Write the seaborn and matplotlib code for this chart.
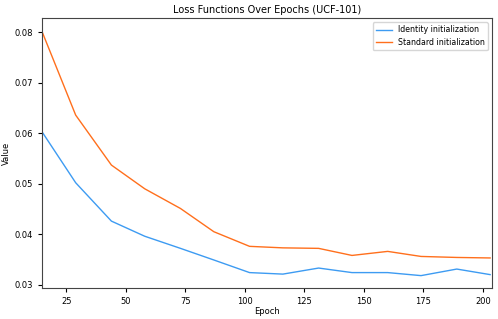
import matplotlib
matplotlib.use("Agg")
import matplotlib.pyplot as plt
import seaborn as sns
import pandas as pd

epochs = [15, 29, 44, 58, 73, 87, 102, 116, 131, 145, 160, 174, 189, 203]
identity_loss = [0.0602, 0.0502, 0.0426, 0.0396, 0.0372, 0.0349, 0.0324,
                 0.0321, 0.0333, 0.0324, 0.0324, 0.0318, 0.0331, 0.0320]
standard_loss = [0.0800, 0.0636, 0.0537, 0.0490, 0.0451, 0.0405, 0.0376,
                 0.0373, 0.0372, 0.0358, 0.0366, 0.0356, 0.0354, 0.0353]
series_names = ['Identity initialization', 'Standard initialization']
colors = ['#3d9bf2', '#ff6f1c']

df = pd.DataFrame({
    'Epoch': epochs * 2,
    'Value': identity_loss + standard_loss,
    'Series': [series_names[0]] * len(epochs) + [series_names[1]] * len(epochs),
})

fig, ax = plt.subplots(figsize=(4.98, 3.19), dpi=100)
sns.lineplot(data=df, x='Epoch', y='Value', hue='Series',
             palette=colors, linewidth=1.0, ax=ax)
ax.set_xlim(epochs[0], 203.8)
ax.set_ylim(0.0294, 0.0828)
ax.set_xticks([25, 50, 75, 100, 125, 150, 175, 200])
ax.set_yticks([0.03, 0.04, 0.05, 0.06, 0.07, 0.08])
ax.tick_params(labelsize=6, length=3)
ax.set_xlabel('Epoch', fontsize=6, labelpad=1)
ax.set_ylabel('Value', fontsize=6, labelpad=3)
ax.set_title('Loss Functions Over Epochs (UCF-101)', fontsize=7, pad=4)
for s in ax.spines.values():
    s.set_color('#444444')
ax.legend(title=None, fontsize=5.7, loc='upper right')
plt.subplots_adjust(left=0.085, right=0.988, top=0.943, bottom=0.098)
plt.savefig('out.png', dpi=100)
